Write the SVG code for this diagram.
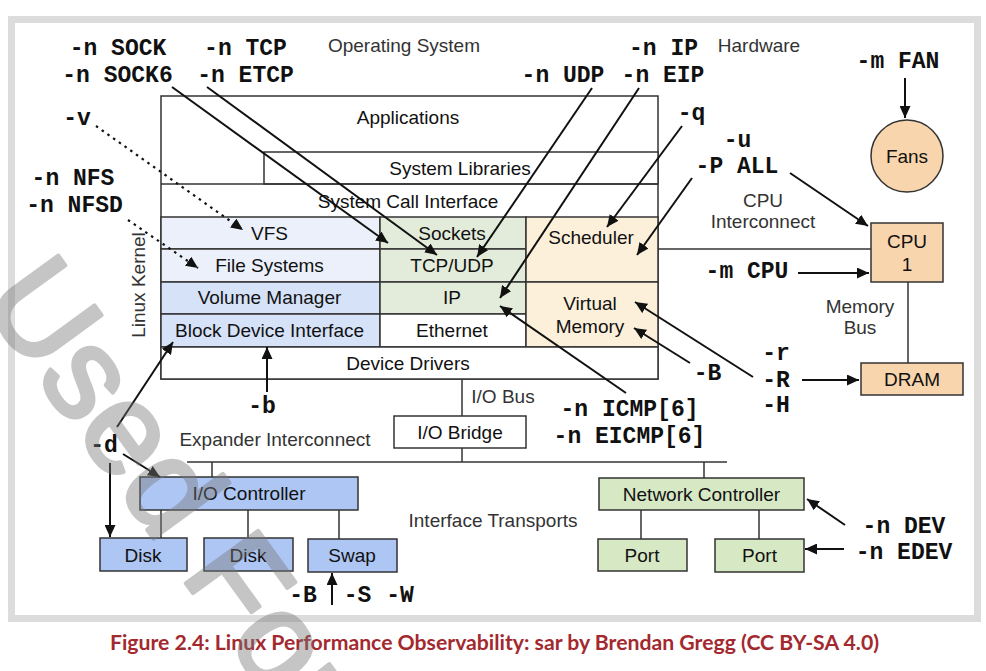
<svg xmlns="http://www.w3.org/2000/svg" width="986" height="671" viewBox="0 0 986 671">
<defs>
<marker id="ah" markerUnits="userSpaceOnUse" markerWidth="13" markerHeight="11" refX="12" refY="5.5" orient="auto">
<path d="M0,0 L12,5.5 L0,11 z" fill="#111"/>
</marker>
<style>
.box{stroke:#333;stroke-width:1.5}
.t{font-family:"Liberation Sans",Arial,Helvetica,sans-serif;font-size:19px;fill:#111;text-anchor:middle}
.l{font-family:"Liberation Sans",Arial,Helvetica,sans-serif;font-size:19px;fill:#333;text-anchor:middle}
.m{font-family:"Liberation Mono","Courier New",monospace;font-weight:bold;font-size:23px;fill:#111;text-anchor:middle}
.ar{stroke:#111;stroke-width:2;fill:none;marker-end:url(#ah)}
.dot{stroke:#111;stroke-width:2.2;fill:none;stroke-dasharray:2.5 4.5;marker-end:url(#ah)}
.ln{stroke:#333;stroke-width:1.5;fill:none}
.blue1{fill:#ebf0fa}.blue2{fill:#d5e2f8}.green{fill:#e3ecda}.peach{fill:#fdf0db}
.hw{fill:#f8d5ad}.dev{fill:#adc6f4}.net{fill:#d6e8c4}
</style>
</defs>
<rect width="986" height="671" fill="#fff"/>
<rect x="11.5" y="19.5" width="966" height="599" fill="none" stroke="#dcdcdc" stroke-width="7"/>

<g id="labels">
<text class="l" x="404" y="52">Operating System</text>
<text class="l" x="759" y="52">Hardware</text>
<text class="l" x="763" y="207">CPU</text>
<text class="l" x="763" y="228">Interconnect</text>
<text class="l" x="860" y="313">Memory</text>
<text class="l" x="860" y="334">Bus</text>
<text class="l" x="503" y="403">I/O Bus</text>
<text class="l" x="275" y="446">Expander Interconnect</text>
<text class="l" x="493" y="527">Interface Transports</text>
<text class="l" x="0" y="0" transform="translate(145,285) rotate(-90)">Linux Kernel</text>
</g>

<g id="os">
<rect x="161" y="96" width="497" height="283" fill="#fff" class="box"/>
<rect x="264" y="152" width="394" height="32" fill="#fff" class="box"/>
<line x1="161" y1="184" x2="658" y2="184" class="ln"/>
<text class="t" x="408" y="124">Applications</text>
<text class="t" x="460" y="175">System Libraries</text>
<text class="t" x="408" y="208">System Call Interface</text>
</g>
<g id="vfs"><rect x="161" y="217" width="219" height="32" class="box blue1"/><text class="t" x="269.5" y="240">VFS</text></g>
<g id="filesystems"><rect x="161" y="249" width="219" height="33" class="box blue1"/><text class="t" x="269.5" y="272">File Systems</text></g>
<g id="volume"><rect x="161" y="282" width="219" height="32" class="box blue2"/><text class="t" x="269.5" y="304">Volume Manager</text></g>
<g id="blockdev"><rect x="161" y="314" width="219" height="33" class="box blue2"/><text class="t" x="269.5" y="337">Block Device Interface</text></g>
<g id="sockets"><rect x="380" y="217" width="146" height="32" class="box green"/><text class="t" x="452" y="240">Sockets</text></g>
<g id="tcpudp"><rect x="380" y="249" width="146" height="33" class="box green"/><text class="t" x="452" y="272">TCP/UDP</text></g>
<g id="ip"><rect x="380" y="282" width="146" height="32" class="box green"/><text class="t" x="452" y="304">IP</text></g>
<g id="ethernet"><rect x="380" y="314" width="146" height="33" fill="#fff" class="box"/><text class="t" x="452" y="337">Ethernet</text></g>
<g id="scheduler"><rect x="526" y="217" width="132" height="65" class="box peach"/><text class="t" x="591" y="244">Scheduler</text></g>
<g id="vm"><rect x="526" y="282" width="132" height="65" class="box peach"/><text class="t" x="590" y="310">Virtual</text><text class="t" x="590" y="333">Memory</text></g>
<g id="drivers"><rect x="161" y="347" width="497" height="32" fill="#fff" class="box"/><text class="t" x="408" y="370">Device Drivers</text></g>

<g id="fans"><circle cx="907" cy="156" r="36" class="box hw"/><text class="t" x="907" y="163">Fans</text></g>
<g id="cpu"><rect x="871" y="223" width="72" height="59" class="box hw"/><text class="t" x="907" y="248">CPU</text><text class="t" x="907" y="271">1</text></g>
<g id="dram"><rect x="861" y="363" width="102" height="32" class="box hw"/><text class="t" x="912" y="386">DRAM</text></g>
<g id="iobridge"><rect x="394" y="416" width="132" height="32" fill="#fff" class="box"/><text class="t" x="460" y="439">I/O Bridge</text></g>
<g id="iocontroller"><rect x="140" y="477" width="218" height="33" class="box dev"/><text class="t" x="249" y="500">I/O Controller</text></g>
<g id="disk1"><rect x="100" y="538" width="87" height="33" class="box dev"/><text class="t" x="143" y="562">Disk</text></g>
<g id="disk2"><rect x="204" y="538" width="89" height="33" class="box dev"/><text class="t" x="248" y="562">Disk</text></g>
<g id="swap"><rect x="308" y="539" width="89" height="33" class="box dev"/><text class="t" x="352" y="562">Swap</text></g>
<g id="netctrl"><rect x="599" y="478" width="205" height="32" class="box net"/><text class="t" x="701.5" y="501">Network Controller</text></g>
<g id="port1"><rect x="598" y="539" width="89" height="32" class="box net"/><text class="t" x="642" y="562">Port</text></g>
<g id="port2"><rect x="715" y="539" width="89" height="33" class="box net"/><text class="t" x="759.5" y="562">Port</text></g>

<g id="options">
<text class="m" x="118" y="55">-n SOCK</text>
<text class="m" x="117.5" y="82">-n SOCK6</text>
<text class="m" x="245.5" y="55">-n TCP</text>
<text class="m" x="245.5" y="82">-n ETCP</text>
<text class="m" x="663.5" y="55">-n IP</text>
<text class="m" x="563" y="82">-n UDP</text>
<text class="m" x="663" y="82">-n EIP</text>
<text class="m" x="898" y="68">-m FAN</text>
<text class="m" x="77" y="125">-v</text>
<text class="m" x="73" y="185">-n NFS</text>
<text class="m" x="74.5" y="212">-n NFSD</text>
<text class="m" x="691.5" y="120">-q</text>
<text class="m" x="737.5" y="147">-u</text>
<text class="m" x="737" y="173">-P ALL</text>
<text class="m" x="747" y="278">-m CPU</text>
<text class="m" x="776" y="360">-r</text>
<text class="m" x="776" y="387">-R</text>
<text class="m" x="776" y="412">-H</text>
<text class="m" x="707.5" y="380">-B</text>
<text class="m" x="629.5" y="416">-n ICMP[6]</text>
<text class="m" x="629.5" y="443">-n EICMP[6]</text>
<text class="m" x="262" y="413">-b</text>
<text class="m" x="104" y="452">-d</text>
<text class="m" x="303" y="602">-B</text>
<text class="m" x="357.5" y="602">-S</text>
<text class="m" x="400" y="602">-W</text>
<text class="m" x="904" y="533">-n DEV</text>
<text class="m" x="904" y="559">-n EDEV</text>
</g>

<g id="connectors">
<line x1="658" y1="249" x2="871" y2="249" class="ln"/>
<line x1="908" y1="282" x2="908" y2="363" class="ln"/>
<line x1="462" y1="379" x2="462" y2="416" class="ln"/>
<line x1="462" y1="448" x2="462" y2="462" class="ln"/>
<line x1="187" y1="462" x2="727" y2="462" class="ln"/>
<line x1="212" y1="462" x2="212" y2="477" class="ln"/>
<line x1="704" y1="462" x2="704" y2="478" class="ln"/>
<line x1="161" y1="510" x2="161" y2="538" class="ln"/>
<line x1="248" y1="510" x2="248" y2="538" class="ln"/>
<line x1="339" y1="510" x2="339" y2="539" class="ln"/>
<line x1="641" y1="510" x2="641" y2="539" class="ln"/>
<line x1="759" y1="510" x2="759" y2="539" class="ln"/>

<line x1="172" y1="87" x2="388" y2="243" class="ar"/>
<line x1="207" y1="87" x2="437" y2="255" class="ar"/>
<line x1="592" y1="88" x2="477" y2="257" class="ar"/>
<line x1="639" y1="88" x2="500" y2="298" class="ar"/>
<line x1="682" y1="126" x2="607" y2="227" class="ar"/>
<line x1="692" y1="178" x2="637" y2="255" class="ar"/>
<line x1="790" y1="173" x2="868" y2="226" class="ar"/>
<line x1="905" y1="78" x2="905" y2="118" class="ar"/>
<line x1="798" y1="273" x2="869" y2="273" class="ar"/>
<line x1="802" y1="380" x2="859" y2="380" class="ar"/>
<line x1="753" y1="377" x2="635" y2="302" class="ar"/>
<line x1="690" y1="363" x2="634" y2="328" class="ar"/>
<line x1="626" y1="393" x2="500" y2="306" class="ar"/>
<line x1="96" y1="126" x2="243" y2="230" class="dot"/>
<line x1="128" y1="220" x2="198" y2="268" class="dot"/>
<line x1="267" y1="392" x2="267" y2="347" class="ar"/>
<line x1="117" y1="427" x2="173" y2="342" class="ar"/>
<line x1="110" y1="463" x2="110" y2="537" class="ar"/>
<line x1="123" y1="454" x2="160" y2="477" class="ar"/>
<line x1="332" y1="605" x2="332" y2="573" class="ar"/>
<line x1="845" y1="525" x2="807" y2="499" class="ar"/>
<line x1="844" y1="549" x2="805" y2="549" class="ar"/>
</g>

<text x="494.5" y="650" font-family="Lato,'Noto Sans',sans-serif" font-weight="bold" font-size="20" fill="#a3292f" text-anchor="middle" textLength="769" lengthAdjust="spacingAndGlyphs">Figure 2.4: Linux Performance Observability: sar by Brendan Gregg (CC BY-SA 4.0)</text>

<g id="watermark" opacity="0.42">
<text x="0" y="0" transform="translate(-20,300) rotate(54)" font-family="'Liberation Sans',Arial,sans-serif" font-size="130" fill="#777" stroke="#777" stroke-width="4" stroke-linejoin="round">Used For</text>
</g>
</svg>
